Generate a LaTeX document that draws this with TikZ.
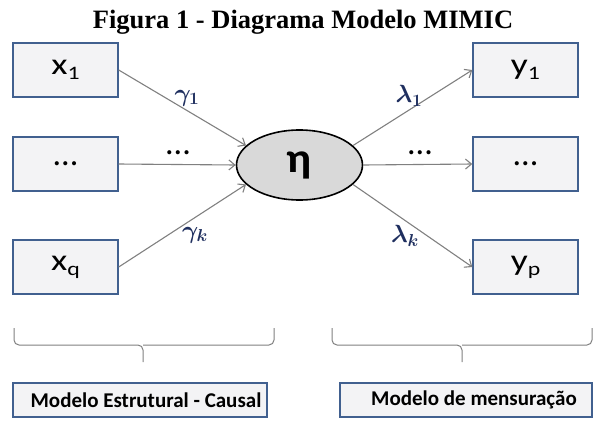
\documentclass[tikz,border=0pt]{standalone}
\usepackage{fontspec}
\usepackage{amsmath}
\usepackage{graphicx}
\setmainfont{Liberation Serif}
\newfontfamily\calfont{Carlito}
\usetikzlibrary{arrows.meta,shapes.geometric}
\definecolor{boxborder}{HTML}{41608F}
\definecolor{boxfill}{HTML}{F3F3F5}
\definecolor{arrowgrey}{HTML}{808080}
\definecolor{labcol}{HTML}{1F2F5F}
\newcommand\stretchtxt[1]{\scalebox{1.25}[1]{#1}}
\newcommand\subtxt[1]{\raisebox{-5pt}{\fontsize{19}{19}\selectfont #1}}
\begin{document}
\begin{tikzpicture}[x=1pt,y=-1pt,
  varbox/.style={draw=boxborder,line width=1.4pt,fill=boxfill,minimum width=105pt,minimum height=54pt,inner sep=0pt,font=\calfont\fontsize{30}{30}\selectfont},
  modbox/.style={draw=boxborder,line width=1.4pt,fill=boxfill,minimum height=34pt,inner sep=0pt,font=\calfont\bfseries\fontsize{21}{23}\selectfont},
  conn/.style={draw=arrowgrey,line width=1.1pt,-{Straight Barb[length=6pt,width=10pt]}},
  lab/.style={text=labcol,font=\fontsize{25}{26}\selectfont},
  dotlab/.style={font=\calfont\fontsize{34}{34}\selectfont},
  bracel/.style={draw=arrowgrey,line width=1pt,rounded corners=5pt}]
\useasboundingbox (0,0) rectangle (595,421);
\node[font=\bfseries\fontsize{26.5}{28}\selectfont] (title) at (303,22) {Figura 1 - Diagrama Modelo MIMIC};
\node[varbox] (x1) at (65.5,70) {\stretchtxt{x\subtxt{1}}};
\node[varbox,font=\calfont\fontsize{34}{34}\selectfont] (xd) at (65.5,164) {...};
\node[varbox] (xq) at (65.5,267) {\stretchtxt{x\subtxt{q}}};
\node[varbox] (y1) at (525.5,70) {\stretchtxt{y\subtxt{1}}};
\node[varbox,font=\calfont\fontsize{34}{34}\selectfont] (yd) at (525.5,164) {...};
\node[varbox] (yp) at (525.5,267) {\stretchtxt{y\subtxt{p}}};
\node[draw=black,line width=1.6pt,fill=black!15,ellipse,minimum width=126pt,minimum height=70pt,inner sep=0pt,font=\calfont\bfseries\fontsize{42}{42}\selectfont] (eta) at (299.5,165) {\scalebox{1.1}[1]{η}};
\draw[conn] (x1.east) -- (eta.160);
\draw[conn] (xd.east) -- (eta.west);
\draw[conn] (xq.east) -- (eta.200);
\draw[conn] (eta.20) -- (y1.west);
\draw[conn] (eta.east) -- (yd.west);
\draw[conn] (eta.-20) -- (yp.west);
\node[lab] (g1) at (187,98) {$\boldsymbol{\gamma_1}$};
\node[lab] (gk) at (195,235) {$\boldsymbol{\gamma_k}$};
\node[lab] (l1) at (409,96) {$\boldsymbol{\lambda_1}$};
\node[lab] (lk) at (405,236) {$\boldsymbol{\lambda_k}$};
\node[dotlab] (d1) at (178,153) {...};
\node[dotlab] (d2) at (420,153) {...};
\coordinate (lbl) at (14,328);
\coordinate (lbr) at (274,328);
\coordinate (lbt) at (143,362);
\draw[bracel] (lbl) -- (14,345) -- (143,345) -- (lbt);
\draw[bracel] (lbr) -- (274,345) -- (143,345);
\coordinate (rbl) at (332,328);
\coordinate (rbr) at (592,328);
\coordinate (rbt) at (462,362);
\draw[bracel] (rbl) -- (332,345) -- (462,345) -- (rbt);
\draw[bracel] (rbr) -- (592,345) -- (462,345);
\node[modbox,minimum width=254pt] (m1) at (140,400) {\hspace{12pt}Modelo Estrutural - Causal};
\node[modbox,minimum width=252pt] (m2) at (466,400) {\hspace{16pt}Modelo de mensuração};
\end{tikzpicture}
\end{document}
